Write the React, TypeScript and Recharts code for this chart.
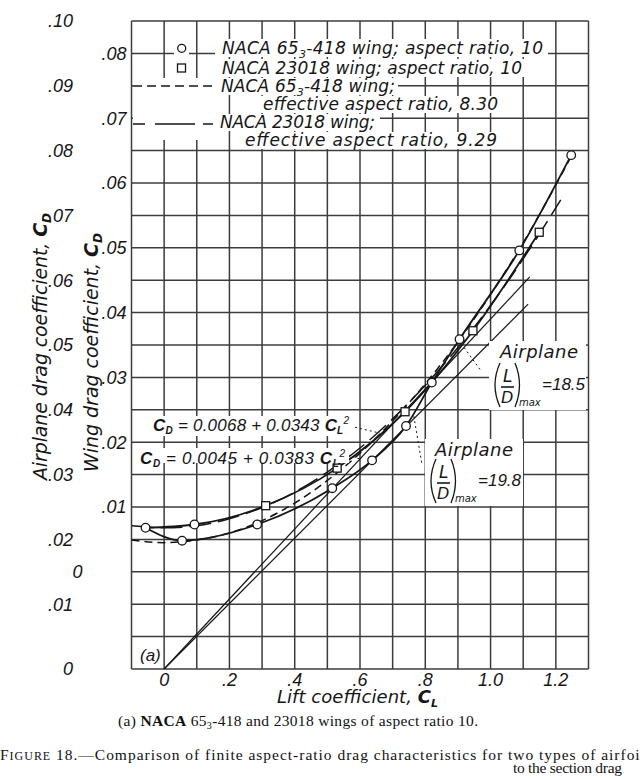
import React from "react";
import {
  ComposedChart,
  Line,
  Scatter,
  XAxis,
  YAxis,
  CartesianGrid,
  ReferenceLine,
} from "recharts";

// grid and tick labels
const clTicks = [-0.1, 0, 0.1, 0.2, 0.3, 0.4, 0.5, 0.6, 0.7, 0.8, 0.9, 1.0, 1.1, 1.2, 1.3];
const clLabels = ["", "0", "", ".2", "", ".4", "", ".6", "", ".8", "", "1.0", "", "1.2", ""];

const wingTicks = [
  -0.015, -0.01, -0.005, 0, 0.005, 0.01, 0.015, 0.02, 0.025, 0.03, 0.035, 0.04, 0.045,
  0.05, 0.055, 0.06, 0.065, 0.07, 0.075, 0.08, 0.085,
];
const wingLabels = [
  "", "", "", "0", "", ".01", "", ".02", "", ".03", "", ".04", "", ".05", "", ".06", "",
  ".07", "", ".08", "",
];

const airTicks = [0, 0.01, 0.02, 0.03, 0.04, 0.05, 0.06, 0.07, 0.08, 0.09, 0.1];
const airLabels = ["0", ".01", ".02", ".03", ".04", ".05", ".06", ".07", ".08", ".09", ".10"];

// NACA 65(3)-418 wing, aspect ratio 10 (solid curve)
const naca65Cl = [-0.057, 0.055, 0.285, 0.515, 0.637, 0.741, 0.82, 0.905, 1.088, 1.247];
const naca65Cd = [0.0068, 0.0048, 0.0073, 0.0129, 0.0172, 0.0225, 0.0292, 0.0359, 0.0496, 0.0643];

// NACA 23018 wing, aspect ratio 10 (solid curve)
const naca230Cl = [-0.057, 0.093, 0.311, 0.53, 0.738, 0.946, 1.149];
const naca230Cd = [0.0068, 0.0073, 0.0102, 0.016, 0.0247, 0.0372, 0.0524];

// plotted symbols
const circleCl = [-0.057, 0.055, 0.093, 0.285, 0.515, 0.637, 0.741, 0.82, 0.905, 1.088, 1.247];
const circleCd = [0.0068, 0.0048, 0.0073, 0.0073, 0.0129, 0.0172, 0.0225, 0.0292, 0.0359, 0.0496, 0.0643];
const squareCl = [0.311, 0.53, 0.738, 0.946, 1.149];
const squareCd = [0.0102, 0.016, 0.0247, 0.0372, 0.0524];

// effective aspect ratio curves
const eff65Cl = [-0.1, 0, 0.1, 0.2, 0.3, 0.4, 0.5, 0.6, 0.7, 0.8, 0.9, 1.0, 1.1, 1.2, 1.25];
const eff65Cd = [0.0049, 0.0045, 0.0049, 0.006, 0.0079, 0.0106, 0.0141, 0.0183, 0.0233, 0.029, 0.0355, 0.0428, 0.0508, 0.0597, 0.0644];
const eff230Cl = [-0.1, 0, 0.1, 0.2, 0.3, 0.4, 0.5, 0.6, 0.7, 0.8, 0.9, 1.0, 1.1, 1.215];
const eff230Cd = [0.0071, 0.0068, 0.0071, 0.0082, 0.0099, 0.0123, 0.0154, 0.0191, 0.0236, 0.0288, 0.0346, 0.0411, 0.0483, 0.0574];

// airplane (L/D)max lines, airplane drag scale
const ld185Cl = [0, 1.12];
const ld185Cd = [0, 0.0605];
const ld198Cl = [0, 1.115];
const ld198Cd = [0, 0.0563];

const zip = (xs: number[], ys: number[]) => xs.map((cl, i) => ({ cl, cd: ys[i] }));

// axis ids: the first one (alphabetically) sits next to the plot
const WING = "a-wing";
const AIR = "b-air";

const LETTER = "'DejaVu Sans', sans-serif";
const NUM = "'Liberation Sans', Arial, sans-serif";
const SERIF = "'Liberation Serif', 'Times New Roman', serif";
const INK = "#161616";
const GRID = "#3c3c3c";

const labelAt = (ticks: number[], labels: string[], v: number) => {
  const i = ticks.findIndex((t) => Math.abs(t - v) < 1e-6);
  return i < 0 ? "" : labels[i];
};

const WingTick = (p: any) => {
  const label = labelAt(wingTicks, wingLabels, p.payload.value);
  const dx = label === "0" ? -44 : 0;
  return (
    <text x={p.x + dx} y={p.y} dy="0.36em" textAnchor="end" fontFamily={NUM} fontStyle="italic" fontSize={18} fill={INK}>
      {label}
    </text>
  );
};

const AirTick = (p: any) => (
  <text x={p.x} y={p.y} dy="0.36em" textAnchor="end" fontFamily={NUM} fontStyle="italic" fontSize={18} fill={INK}>
    {labelAt(airTicks, airLabels, p.payload.value)}
  </text>
);

const circleShape = (p: any) => (
  <circle cx={p.cx} cy={p.cy} r={4.3} fill="#fff" stroke={INK} strokeWidth={1.3} />
);
const squareShape = (p: any) => (
  <rect x={p.cx - 4} y={p.cy - 4} width={8} height={8} fill="#fff" stroke={INK} strokeWidth={1.3} />
);

const leader = { stroke: INK, strokeWidth: 1, strokeDasharray: "2 3", ifOverflow: "visible" as const };

// (L/D)max block; x = left of the opening bracket, y = its top
const LD = ({ x, y, val }: { x: number; y: number; val: string }) => (
  <g fill={INK}>
    <path d={`M${x + 7} ${y} Q${x - 3} ${y + 22} ${x + 7} ${y + 44}`} fill="none" stroke={INK} strokeWidth={1.3} />
    <text x={x + 10} y={y + 19} fontFamily={LETTER} fontStyle="italic" fontSize={17}>L</text>
    <line x1={x + 8} x2={x + 21} y1={y + 24} y2={y + 24} stroke={INK} strokeWidth={1.6} />
    <text x={x + 8} y={y + 40} fontFamily={LETTER} fontStyle="italic" fontSize={16}>D</text>
    <path d={`M${x + 22} ${y} Q${x + 31} ${y + 22} ${x + 22} ${y + 44}`} fill="none" stroke={INK} strokeWidth={1.3} />
    <text x={x + 26} y={y + 43} fontFamily={LETTER} fontStyle="italic" fontSize={10}>max</text>
    <text x={x + 49} y={y + 27} fontFamily={NUM} fontStyle="italic" fontSize={17}>{val}</text>
  </g>
);

export default function App() {
  return (
    <div style={{ position: "absolute", left: 0, top: 0, width: 640, height: 779, overflow: "hidden", background: "#fff" }}>
      <div style={{ position: "absolute", left: 0, top: 0 }}>
        <ComposedChart width={640} height={779} margin={{ top: 21, right: 51.5, bottom: 80, left: 0 }}>
          <CartesianGrid yAxisId={WING} stroke={GRID} strokeWidth={1.5} />
          <XAxis
            type="number"
            dataKey="cl"
            domain={[-0.1, 1.3]}
            ticks={clTicks}
            interval={0}
            allowDataOverflow
            height={30}
            axisLine={false}
            tickLine={false}
            tickSize={4}
            tickMargin={0}
            tickFormatter={(v: number) => labelAt(clTicks, clLabels, v)}
            tick={{ fontFamily: NUM, fontStyle: "italic", fontSize: 18, fill: INK }}
          />
          <YAxis
            yAxisId={WING}
            type="number"
            domain={[-0.015, 0.085]}
            ticks={wingTicks}
            interval={0}
            allowDataOverflow
            width={53.5}
            axisLine={false}
            tickLine={false}
            tickSize={0}
            tickMargin={5}
            tick={WingTick}
          />
          <YAxis
            yAxisId={AIR}
            type="number"
            domain={[0, 0.1]}
            ticks={airTicks}
            interval={0}
            allowDataOverflow
            width={78}
            axisLine={false}
            tickLine={false}
            tickSize={0}
            tickMargin={5}
            tick={AirTick}
          />

          <Line data={zip(eff65Cl, eff65Cd)} dataKey="cd" yAxisId={WING} type="monotone" stroke={INK} strokeWidth={1.5} strokeDasharray="8 5" dot={false} isAnimationActive={false} />
          <Line data={zip(eff230Cl, eff230Cd)} dataKey="cd" yAxisId={WING} type="monotone" stroke={INK} strokeWidth={1.5} strokeDasharray="22 7" dot={false} isAnimationActive={false} />
          <Line data={zip(naca65Cl, naca65Cd)} dataKey="cd" yAxisId={WING} type="monotone" stroke={INK} strokeWidth={1.8} dot={false} isAnimationActive={false} />
          <Line data={zip(naca230Cl, naca230Cd)} dataKey="cd" yAxisId={WING} type="monotone" stroke={INK} strokeWidth={1.8} dot={false} isAnimationActive={false} />
          <Line data={zip(ld185Cl, ld185Cd)} dataKey="cd" yAxisId={AIR} type="linear" stroke={INK} strokeWidth={1.2} dot={false} isAnimationActive={false} />
          <Line data={zip(ld198Cl, ld198Cd)} dataKey="cd" yAxisId={AIR} type="linear" stroke={INK} strokeWidth={1.2} dot={false} isAnimationActive={false} />

          <ReferenceLine yAxisId={WING} segment={[{ x: 0.585, y: 0.0223 }, { x: 0.661, y: 0.0214 }]} {...leader} />
          <ReferenceLine yAxisId={WING} segment={[{ x: 0.563, y: 0.018 }, { x: 0.6, y: 0.0174 }]} {...leader} />
          <ReferenceLine yAxisId={WING} segment={[{ x: 0.919, y: 0.0346 }, { x: 0.968, y: 0.0312 }]} {...leader} />
          <ReferenceLine yAxisId={WING} segment={[{ x: 0.765, y: 0.024 }, { x: 0.79, y: 0.0165 }]} {...leader} />

          <Scatter data={zip(circleCl, circleCd)} dataKey="cd" yAxisId={WING} shape={circleShape} isAnimationActive={false} />
          <Scatter data={zip(squareCl, squareCd)} dataKey="cd" yAxisId={WING} shape={squareShape} isAnimationActive={false} />
        </ComposedChart>
      </div>

      <svg width={640} height={779} style={{ position: "absolute", left: 0, top: 0, pointerEvents: "none" }}>
        {/* legend */}
        <g fill="#fff">
          <rect x={215} y={39} width={333} height={18} />
          <rect x={215} y={59} width={312} height={18} />
          <rect x={133} y={78} width={82} height={62} />
          <rect x={215} y={78} width={183} height={17} />
          <rect x={256} y={96} width={246} height={17} />
          <rect x={215} y={114} width={165} height={17} />
          <rect x={238} y={132} width={264} height={17} />
          <rect x={174} y={41} width={15} height={15} />
          <rect x={174} y={61} width={15} height={15} />
        </g>
        <g fill={INK} fontFamily={LETTER} fontStyle="italic" fontSize={17}>
          <circle cx={181.7} cy={48.3} r={4} fill="#fff" stroke={INK} strokeWidth={1.3} />
          <rect x={177.5} y={64} width={8} height={8} fill="#fff" stroke={INK} strokeWidth={1.3} />
          <line x1={133} x2={213} y1={86} y2={86} stroke={INK} strokeWidth={1.5} strokeDasharray="9 5" />
          <line x1={133} x2={213} y1={124} y2={124} stroke={INK} strokeWidth={1.5} strokeDasharray="12 10 40 8" />
          <text x={222} y={54} textLength={321}>
            NACA 65<tspan fontSize={11} dy={4}>3</tspan>
            <tspan dy={-4}>-418 wing; aspect ratio, 10</tspan>
          </text>
          <text x={222} y={74} textLength={300}>NACA 23018 wing; aspect ratio, 10</text>
          <text x={221} y={92} textLength={174}>
            NACA 65<tspan fontSize={11} dy={4}>3</tspan>
            <tspan dy={-4}>-418 wing;</tspan>
          </text>
          <text x={263} y={110} textLength={235}>effective aspect ratio, 8.30</text>
          <text x={220} y={128} textLength={155}>NACA 23018 wing;</text>
          <text x={245} y={146} textLength={252}>effective aspect ratio, 9.29</text>
        </g>

        {/* equations */}
        <g fill="#fff">
          <rect x={149} y={416} width={203} height={20} />
          <rect x={137} y={448} width={212} height={15} />
        </g>
        <g fill={INK} fontFamily={NUM} fontStyle="italic" fontSize={17}>
          <text x={153} y={431} textLength={196}>
            <tspan fontWeight="bold">C</tspan>
            <tspan fontSize={10} dy={3} fontWeight="bold">D</tspan>
            <tspan dy={-3}> = 0.0068 + 0.0343 </tspan>
            <tspan fontWeight="bold">C</tspan>
            <tspan fontSize={10} dy={3} fontWeight="bold">L</tspan>
            <tspan fontSize={10} dy={-10}>2</tspan>
          </text>
          <text x={140} y={464} textLength={205}>
            <tspan fontWeight="bold">C</tspan>
            <tspan fontSize={10} dy={3} fontWeight="bold">D</tspan>
            <tspan dy={-3}> = 0.0045 + 0.0383 </tspan>
            <tspan fontWeight="bold">C</tspan>
            <tspan fontSize={10} dy={3} fontWeight="bold">L</tspan>
            <tspan fontSize={10} dy={-10}>2</tspan>
          </text>
        </g>

        {/* airplane (L/D)max notes */}
        <g fill="#fff">
          <rect x={489} y={341} width={97} height={69} />
          <rect x={425} y={439} width={98} height={67} />
        </g>
        <text x={500} y={358} textLength={78} fontFamily={LETTER} fontStyle="italic" fontSize={18} fill={INK}>Airplane</text>
        <LD x={493} y={363} val="=18.5" />
        <text x={435} y={456} textLength={78} fontFamily={LETTER} fontStyle="italic" fontSize={18} fill={INK}>Airplane</text>
        <LD x={429} y={459} val="=19.8" />

        <text x={140} y={661} fontFamily={NUM} fontStyle="italic" fontSize={17} fill={INK}>(a)</text>

        {/* axis titles */}
        <g fill={INK} fontFamily={LETTER} fontStyle="italic" fontSize={19}>
          <text transform="translate(47 480) rotate(-90)" textLength={267}>
            Airplane drag coefficient, <tspan fontWeight="bold">C</tspan>
            <tspan fontSize={12} dy={4} fontWeight="bold">D</tspan>
          </text>
          <text transform="translate(98 472) rotate(-90)" textLength={239}>
            Wing drag coefficient, <tspan fontWeight="bold">C</tspan>
            <tspan fontSize={12} dy={4} fontWeight="bold">D</tspan>
          </text>
          <text x={277} y={703} fontSize={18} textLength={161}>
            Lift coefficient, <tspan fontWeight="bold">C</tspan>
            <tspan fontSize={11} dy={4} fontWeight="bold">L</tspan>
          </text>
        </g>

        {/* captions */}
        <g fill="#111" fontFamily={SERIF} fontSize={15.5}>
          <text x={118} y={726} textLength={360}>
            (a) <tspan fontWeight="bold">NACA</tspan> 65<tspan fontSize={10} dy={3}>3</tspan>
            <tspan dy={-3}>-418 and 23018 wings of aspect ratio 10.</tspan>
          </text>
          <text x={0} y={760} textLength={652}>
            F<tspan fontSize={12}>IGURE</tspan> 18.—Comparison of finite aspect-ratio drag characteristics for two types of airfoils
          </text>
          <text x={513} y={773} textLength={109}>to the section drag</text>
        </g>
      </svg>
    </div>
  );
}
